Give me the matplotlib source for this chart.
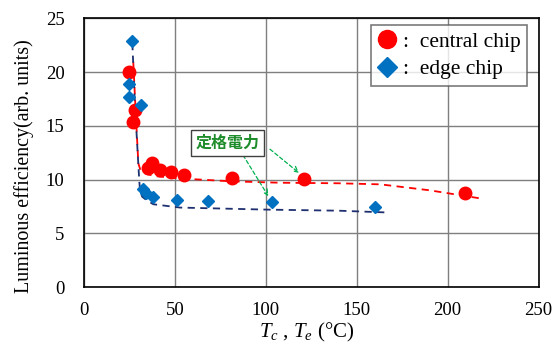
import matplotlib
matplotlib.use("Agg")
import matplotlib.pyplot as plt
from matplotlib.lines import Line2D

plt.rcParams['font.family'] = ['Liberation Serif', 'DejaVu Serif']
plt.rcParams['mathtext.fontset'] = 'custom'
plt.rcParams['mathtext.rm'] = 'Liberation Serif'
plt.rcParams['mathtext.it'] = 'Liberation Serif:italic'

# Data
central_x = [24.9, 28.1, 26.8, 35.0, 37.2, 41.8, 47.9, 54.8, 81.6, 121.2, 209.6]
central_y = [20.0, 16.45, 15.36, 11.1, 11.5, 10.93, 10.68, 10.4, 10.15, 10.09, 8.7]
edge_x = [26.6, 24.9, 24.9, 31.4, 32.3, 33.9, 37.8, 51.2, 68.2, 103.2, 160.2]
edge_y = [22.9, 18.9, 17.7, 16.9, 9.16, 8.7, 8.38, 8.07, 8.0, 7.91, 7.45]

central_fit_x = [27.1, 28.5, 29.9, 31.0, 34.5, 40.0, 52.8, 80.0, 108.0, 140.0, 163.0, 190.0, 219.6]
central_fit_y = [20.95, 16.0, 11.5, 10.9, 10.5, 10.3, 10.1, 9.84, 9.7, 9.65, 9.55, 9.0, 8.2]
edge_fit_x = [26.6, 28.0, 30.4, 30.8, 32.0, 34.5, 38.1, 52.8, 100.5, 140.0, 167.4]
edge_fit_y = [22.7, 17.0, 9.9, 9.0, 8.4, 8.07, 7.7, 7.39, 7.2, 7.1, 6.93]

x_ticks = [0, 50, 100, 150, 200, 250]
y_ticks = [0, 5, 10, 15, 20, 25]

legend_labels = [':  central chip', ':  edge chip']
annot_text = '定格電力'
annot_pos = (79, 13.4)
arrow_starts = [(87.5, 12.26), (102.3, 12.82)]
arrow_ends = [(101.4, 8.45), (118.3, 10.61)]

W, H = 557, 342
fig = plt.figure(figsize=(W/100, H/100), dpi=100)
ax = fig.add_axes([84/W, 1-287/H, (538.5-84)/W, (287-18.3)/H])

ax.plot(central_fit_x, central_fit_y, linestyle=(0, (4, 3)), color='#FF0000', lw=1.3, zorder=2)
ax.plot(edge_fit_x, edge_fit_y, linestyle=(0, (4, 3)), color='#1F3070', lw=1.3, zorder=2)

ax.plot(central_x, central_y, 'o', color='#FF0000', ms=9, mec='#FF0000', zorder=3, linestyle='none')
ax.plot(edge_x, edge_y, 'D', color='#0070C0', ms=6.5, mec='#0070C0', zorder=3, linestyle='none')

ax.set_xlim(0, 250)
ax.set_ylim(0, 25)
ax.set_xticks(x_ticks)
ax.set_yticks(y_ticks)
ax.grid(True, color='#7F7F7F', lw=1.0)
ax.set_axisbelow(True)
ax.tick_params(axis='both', length=0, labelsize=13.5)
ax.tick_params(axis='x', pad=11)
ax.tick_params(axis='y', pad=14)
for s in ax.spines.values():
    s.set_linewidth(1.2)
    s.set_color('black')

fig.text(24/W, 1-166.5/H, 'Luminous efficiency(arb. units)', rotation=90,
         ha='center', va='center', fontsize=14.4)
fig.text(306.5/W, 1-337/H, '$T_c$ , $T_e$ (°C)', ha='center', va='baseline', fontsize=15)

handles = [Line2D([], [], marker='o', color='#FF0000', ms=13, linestyle='none'),
           Line2D([], [], marker='D', color='#0070C0', ms=10, linestyle='none')]
leg = ax.legend(handles, legend_labels, loc='upper right', fontsize=15.5,
                frameon=True, fancybox=False, edgecolor='#595959',
                handlelength=0.9, handletextpad=0.3, borderpad=0.3,
                labelspacing=0.35, bbox_to_anchor=(527/W, 1-25/H),
                bbox_transform=fig.transFigure, borderaxespad=0)
leg.get_frame().set_linewidth(1.2)

for st, en in zip(arrow_starts, arrow_ends):
    ax.annotate('', xy=en, xytext=st,
                arrowprops=dict(arrowstyle='->', color='#00B050', lw=0.9,
                                linestyle=(0, (3, 2)), shrinkA=0, shrinkB=0))
bbox = dict(boxstyle='square,pad=0.3', fc='white', ec='#404040', lw=1.0)
ax.text(annot_pos[0], annot_pos[1], annot_text, ha='center', va='center', fontsize=11.5,
        color='#1E8C2A', family=['Noto Sans CJK JP'], fontweight='bold', bbox=bbox, zorder=5)

fig.savefig('out.png', dpi=100)
